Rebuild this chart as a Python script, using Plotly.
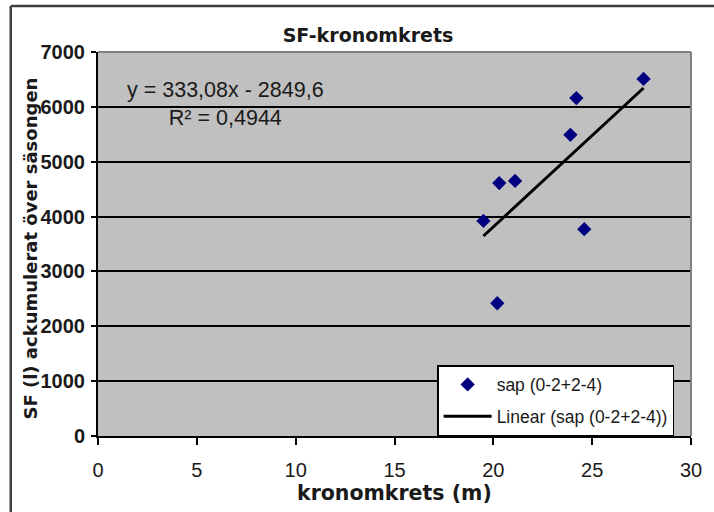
import plotly.graph_objects as go

# Measured values: crown circumference (m) vs. accumulated sap flow over the season
kronomkrets = [19.5, 20.2, 20.3, 21.1, 23.9, 24.2, 24.6, 27.6]
sap = [3920, 2420, 4610, 4650, 5490, 6160, 3770, 6510]

# Linear trend line coefficients and fit quality
slope = 333.08
intercept = -2849.6
r_squared = 0.4944

x_ticks = [0, 5, 10, 15, 20, 25, 30]
y_ticks = [0, 1000, 2000, 3000, 4000, 5000, 6000, 7000]

W, H = 714, 512
ML, MR, MT, MB = 98, 18, 52, 76
PW, PH = W - ML - MR, H - MT - MB


def px(x):
    return (x - ML) / PW


def py(y):
    return (H - MB - y) / PH


def sv(v, nd):
    return f"{v:.{nd}f}".replace(".", ",")


trend_x = [min(kronomkrets), max(kronomkrets)]
trend_y = [slope * v + intercept for v in trend_x]

fig = go.Figure()
fig.add_trace(go.Scatter(
    x=kronomkrets, y=sap, mode="markers", name="sap (0-2+2-4)",
    legendgroup="a",
    marker=dict(symbol="diamond", size=11, color="#000080"),
))
fig.add_trace(go.Scatter(
    x=trend_x, y=trend_y, mode="lines", name="Linear (sap (0-2+2-4))",
    legendgroup="b",
    line=dict(color="black", width=3),
))

txt = "#1a1a1a"
sign = "-" if intercept < 0 else "+"
eq_text = f"y = {sv(slope, 2)}x {sign} {sv(abs(intercept), 1)}<br>R² = {sv(r_squared, 4)}"

fig.update_layout(
    width=W, height=H,
    margin=dict(l=ML, r=MR, t=MT, b=MB),
    paper_bgcolor="white",
    plot_bgcolor="#C0C0C0",
    showlegend=True,
    title=dict(
        text="SF-kronomkrets", x=368 / W, xanchor="center",
        y=1 - 35 / H, yanchor="middle",
        font=dict(family="DejaVu Sans", size=19, color=txt, weight="bold"),
    ),
    legend=dict(
        x=px(440), y=py(436), xanchor="left", yanchor="bottom",
        bgcolor="white", bordercolor="black", borderwidth=1.5,
        font=dict(family="Liberation Sans", size=17.5, color=txt),
        itemwidth=48, tracegroupgap=6,
    ),
    xaxis=dict(
        range=[0, 30], tickvals=x_ticks, ticktext=[str(v) for v in x_ticks],
        showgrid=False, zeroline=False,
        showline=True, linecolor="black", linewidth=2,
        ticks="outside", ticklen=7, tickwidth=1.5, tickcolor="black",
        tickfont=dict(family="Liberation Sans", size=20, color=txt),
        ticklabelstandoff=8,
    ),
    yaxis=dict(
        range=[0, 7000], tickvals=y_ticks, ticktext=[str(v) for v in y_ticks],
        showgrid=True, gridcolor="black", gridwidth=1.5, zeroline=False,
        showline=True, linecolor="black", linewidth=2,
        ticks="outside", ticklen=5, tickwidth=1.5, tickcolor="black",
        tickfont=dict(family="Liberation Sans", size=20, color=txt, weight="bold"),
        ticklabelstandoff=2,
    ),
    annotations=[
        dict(
            text=eq_text, xref="paper", yref="paper",
            x=px(226.5), y=py(104), xanchor="center", yanchor="middle",
            showarrow=False, align="center",
            font=dict(family="Liberation Sans", size=21.5, color=txt),
        ),
        dict(
            text="kronomkrets (m)", xref="paper", yref="paper",
            x=px(397), y=py(493), xanchor="center", yanchor="middle",
            showarrow=False,
            font=dict(family="DejaVu Sans", size=20.5, color=txt, weight="bold"),
        ),
        dict(
            text="SF (l) ackumulerat över säsongen", xref="paper", yref="paper",
            x=px(30), y=py(249), xanchor="center", yanchor="middle",
            showarrow=False, textangle=-90,
            font=dict(family="DejaVu Sans", size=18, color=txt, weight="bold"),
        ),
    ],
    shapes=[
        # plot-area border on top and right
        dict(type="line", xref="paper", yref="paper", x0=0, x1=1, y0=1, y1=1,
             line=dict(color="#808080", width=2), layer="above"),
        dict(type="line", xref="paper", yref="paper", x0=1, x1=1, y0=0, y1=1,
             line=dict(color="#808080", width=2), layer="above"),
        # chart frame
        dict(type="line", xref="paper", yref="paper", x0=px(10), x1=px(720),
             y0=py(6), y1=py(6), line=dict(color="#404040", width=2.5)),
        dict(type="line", xref="paper", yref="paper", x0=px(10), x1=px(10),
             y0=py(6), y1=py(520), line=dict(color="#404040", width=2.5)),
    ],
)

fig.write_html("out.html")
